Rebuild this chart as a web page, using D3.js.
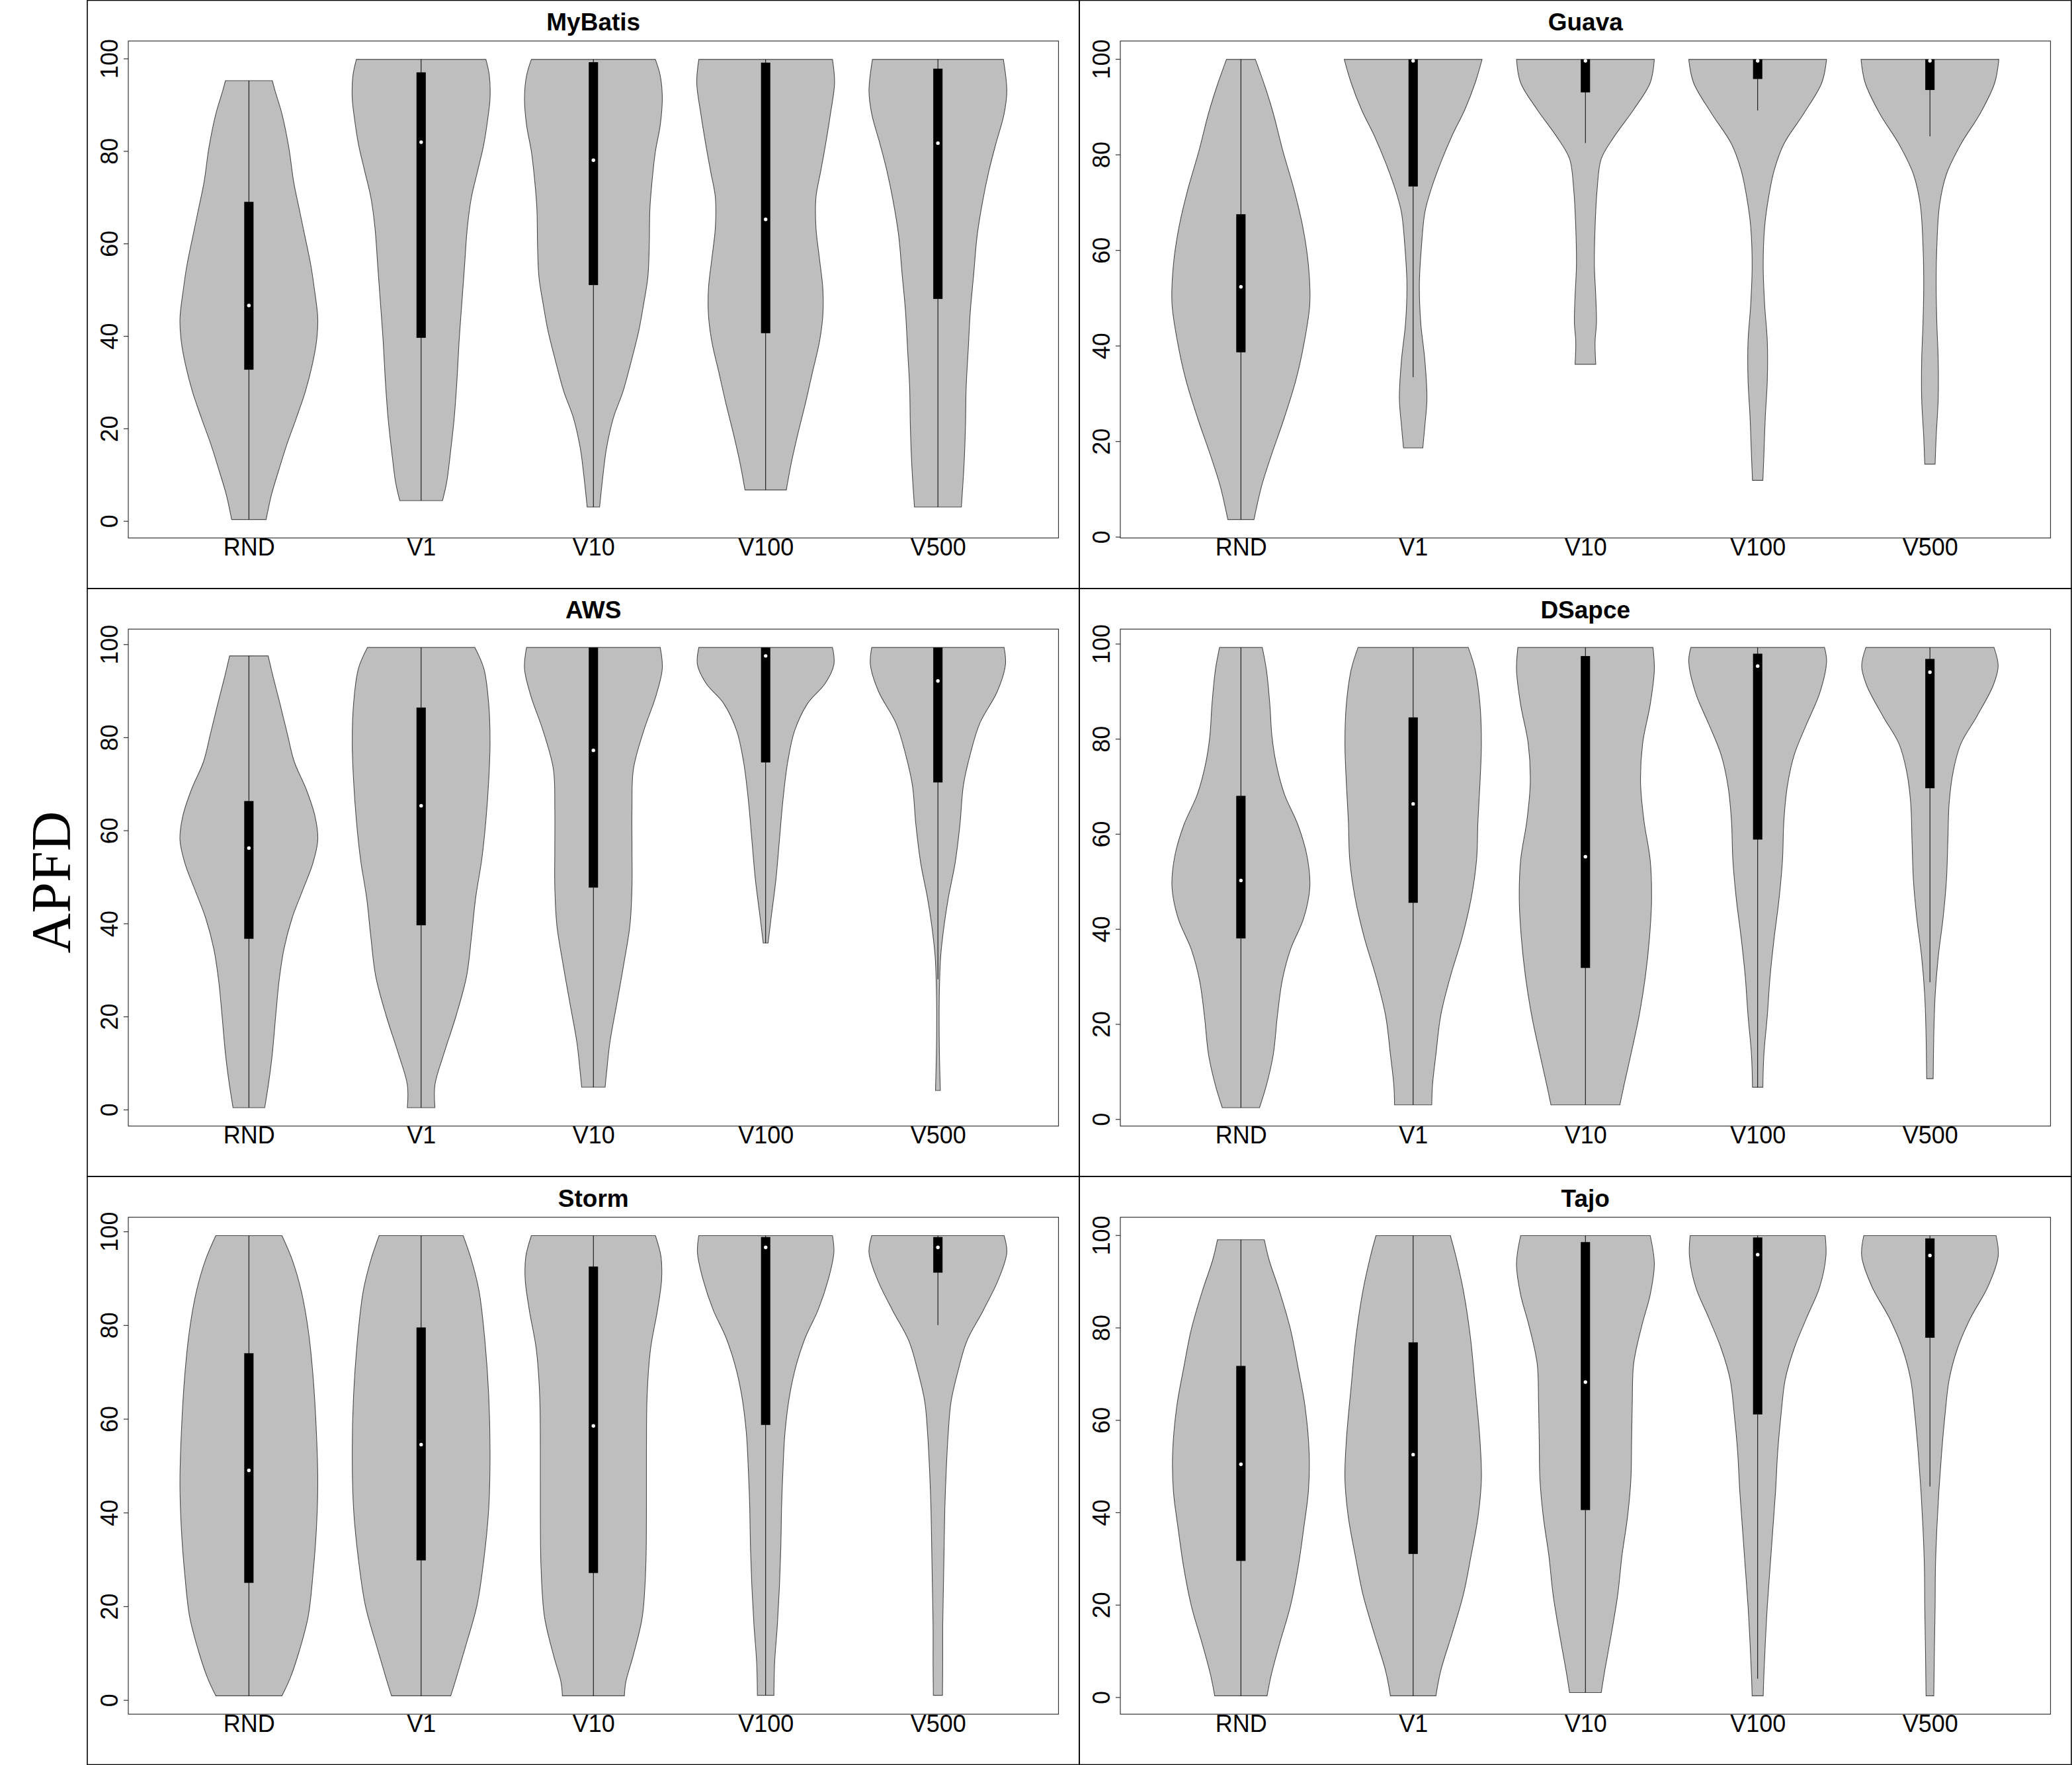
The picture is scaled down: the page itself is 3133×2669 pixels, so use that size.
<!DOCTYPE html>
<html>
<head>
<meta charset="utf-8">
<script src="https://cdn.jsdelivr.net/npm/d3@7"></script>
<style>
  html, body { margin: 0; padding: 0; background: #fff; }
  svg { display: block; }
</style>
</head>
<body>
<svg id="chart" width="3133" height="2669"></svg>
<script>
// ---------------- DATA ----------------
const categories = ["RND", "V1", "V10", "V100", "V500"];
const yTicks = [0, 20, 40, 60, 80, 100];
const panelTitles = ["MyBatis", "Guava", "AWS", "DSapce", "Storm", "Tajo"];
const yLabel = "APFD";

// violin profiles: [value, relative half-width] from bottom to top
// box summaries: [lower whisker, q1, median, q3, upper whisker]
const myBatisViolins = [
  [[0.3,0.25],[5.8,0.33],[10.8,0.43],[16.5,0.55],[22.3,0.69],[28,0.82],[33.8,0.92],[38.7,0.98],[43.7,1.0],[50.2,0.95],[55.2,0.9],[61.8,0.81],[67.5,0.73],[73.3,0.65],[80.7,0.58],[88,0.48],[93,0.38],[95.2,0.34]],
  [[4.4,0.31],[8.3,0.37],[14.1,0.42],[22.3,0.48],[30.5,0.52],[38.7,0.55],[47,0.59],[55.2,0.63],[63.4,0.67],[70,0.73],[75.7,0.82],[81.5,0.91],[87.3,0.97],[91.4,1.0],[96.3,0.99],[99.8,0.94]],
  [[3,0.09],[10,0.14],[15.7,0.19],[22.3,0.29],[28,0.43],[34.6,0.55],[41.2,0.66],[47,0.73],[52.7,0.79],[59.3,0.81],[67.5,0.82],[73.3,0.85],[79.9,0.9],[85.6,0.97],[91.4,1.0],[96.3,0.97],[99.8,0.9]],
  [[6.7,0.3],[12.4,0.37],[19,0.47],[25.6,0.58],[32.2,0.68],[38.7,0.78],[44.5,0.83],[50.2,0.83],[56.8,0.78],[63.4,0.73],[70,0.73],[75.7,0.8],[81.5,0.87],[88,0.94],[94.7,1.0],[99.8,0.97]],
  [[3,0.34],[12.4,0.38],[20.6,0.4],[28.9,0.41],[37.1,0.44],[45.3,0.47],[53.5,0.52],[61.8,0.57],[69.2,0.65],[75.7,0.74],[81.5,0.84],[88,0.96],[93,1.0],[99.8,0.95]]
];
const myBatisBoxes = [[0.3,32.7,46.6,69,95.2],[4.4,39.6,81.9,97,99.8],[3,51,78,99.2,99.8],[6.7,40.6,65.2,99.1,99.8],[3,48,81.7,97.8,99.8]];

const guavaViolins = [
  [[3.6,0.19],[10.6,0.3],[17,0.44],[24.9,0.63],[32.9,0.8],[40.8,0.92],[48.8,1.0],[56.8,0.98],[64.7,0.9],[72.7,0.77],[80.7,0.61],[88.6,0.47],[94.2,0.35],[99.9,0.21]],
  [[18.6,0.14],[23.3,0.17],[28.9,0.2],[36.9,0.17],[44.8,0.11],[52.8,0.09],[60.7,0.12],[67.9,0.17],[72.7,0.26],[78.3,0.4],[83.8,0.56],[89.4,0.75],[95,0.9],[99.9,1.0]],
  [[36.1,0.15],[40.8,0.14],[44.8,0.16],[50.4,0.15],[56.8,0.13],[64.7,0.14],[72.7,0.17],[79.1,0.23],[83.8,0.42],[89.4,0.7],[95,0.94],[99.9,1.0]],
  [[11.8,0.075],[17,0.09],[24.9,0.11],[32.9,0.14],[40.8,0.14],[48.8,0.1],[56.8,0.08],[64.7,0.1],[70.3,0.15],[76.7,0.24],[82.2,0.38],[88.6,0.67],[95,0.93],[99.9,1.0]],
  [[15.2,0.075],[20.9,0.09],[28.9,0.12],[36.9,0.12],[44.8,0.1],[52.8,0.09],[60.7,0.1],[69.5,0.14],[75.9,0.24],[82.2,0.45],[88.6,0.73],[95,0.94],[99.9,1.0]]
];
const guavaBoxes = [[3.6,38.6,52.3,67.5,99.9],[33.4,73.3,99.6,99.9,99.9],[82.4,93,99.6,99.9,99.9],[89.2,95.8,99.6,99.9,99.9],[83.8,93.5,99.6,99.9,99.9]];

const awsViolins = [
  [[0.4,0.23],[6.1,0.29],[12,0.34],[20.3,0.39],[27.9,0.44],[34.6,0.51],[41.3,0.63],[47.1,0.78],[53,0.93],[58,1.0],[63,0.96],[68.9,0.83],[74.7,0.66],[80.6,0.56],[87.3,0.45],[93.1,0.35],[97.5,0.28]],
  [[0.4,0.2],[5.3,0.2],[12,0.33],[20.3,0.51],[28.7,0.66],[37.1,0.73],[45.4,0.79],[53.8,0.88],[62.2,0.94],[70.6,0.98],[78.9,1.0],[87.3,0.98],[94.8,0.91],[99.3,0.78]],
  [[4.8,0.17],[7.8,0.19],[14.5,0.24],[22.8,0.34],[31.2,0.44],[39.6,0.53],[47.9,0.56],[56.3,0.56],[64.7,0.56],[73.1,0.58],[81.4,0.73],[89,0.91],[94.8,1.0],[99.3,0.97]],
  [[35.8,0.035],[41.3,0.08],[49.6,0.15],[58,0.2],[66.4,0.25],[74.7,0.32],[81.4,0.42],[87.3,0.61],[91.5,0.86],[95.6,0.99],[99.3,0.97]],
  [[4.1,0.035],[14,0.02],[24.5,0.02],[32.9,0.04],[39.6,0.09],[45.4,0.15],[53,0.25],[61.3,0.32],[69.7,0.37],[76.4,0.47],[83.1,0.61],[89.8,0.86],[95.6,0.98],[99.3,0.96]]
];
const awsBoxes = [[0.4,36.7,56.2,66.3,97.5],[0.4,39.6,65.3,86.4,99.3],[4.8,47.7,77.2,99.3,99.3],[35.8,74.6,97.5,99.3,99.3],[28,70.3,92.1,99.3,99.3]];

const dsapceViolins = [
  [[2.4,0.27],[7.1,0.37],[13.6,0.47],[21.8,0.53],[29.2,0.6],[35.7,0.72],[42.2,0.91],[48.8,1.0],[55.3,0.96],[61.8,0.83],[68.4,0.63],[74.9,0.51],[80.6,0.45],[87.2,0.42],[94.5,0.37],[99.2,0.31]],
  [[3,0.27],[7.1,0.28],[13.6,0.33],[21.8,0.4],[30,0.54],[38.2,0.71],[46.3,0.84],[54.5,0.92],[62.7,0.94],[70.8,0.97],[79,0.99],[87.2,0.97],[94.5,0.9],[99.2,0.8]],
  [[3,0.5],[7.1,0.56],[13.6,0.66],[21.8,0.78],[30,0.87],[38.2,0.93],[46.3,0.96],[54.5,0.94],[62.7,0.85],[70.8,0.8],[79,0.83],[87.2,0.94],[94.5,1.0],[99.2,0.98]],
  [[6.7,0.075],[13.6,0.09],[21.8,0.14],[30,0.18],[38.2,0.24],[46.3,0.31],[54.5,0.36],[62.7,0.38],[70,0.43],[76.6,0.53],[83.1,0.71],[89.6,0.9],[96.2,1.0],[99.2,0.97]],
  [[8.5,0.047],[17.7,0.056],[25.9,0.075],[34.1,0.12],[42.2,0.19],[50.4,0.24],[58.6,0.26],[66.7,0.28],[73.3,0.34],[79,0.45],[84.7,0.68],[91.3,0.92],[95.3,0.99],[99.2,0.93]]
];
const dsapceBoxes = [[2.4,38,50.2,68,99.2],[3,45.5,66.3,84.5,99.2],[3,31.8,55.2,97.4,99.2],[6.7,58.8,95.3,97.9,99.2],[28.8,69.6,94,96.8,99.2]];

const stormViolins = [
  [[0.9,0.48],[4.7,0.6],[10.4,0.73],[17.8,0.86],[26.8,0.93],[36.6,0.98],[46.4,1.0],[57,0.98],[69.3,0.93],[79.1,0.86],[87.3,0.76],[93.9,0.63],[99.1,0.48]],
  [[0.9,0.43],[4.7,0.51],[11.2,0.64],[20.2,0.81],[30,0.91],[40.7,0.98],[52.9,1.0],[65.2,0.98],[77.5,0.92],[87.3,0.84],[93.9,0.73],[99.1,0.61]],
  [[0.9,0.45],[3.8,0.47],[9.6,0.58],[17.8,0.71],[28.4,0.76],[40.7,0.77],[52.9,0.77],[65.2,0.78],[75,0.83],[83.2,0.93],[89.8,0.99],[94.7,0.98],[99.1,0.9]],
  [[1,0.12],[7.9,0.13],[16.1,0.17],[24.3,0.2],[32.5,0.22],[40.7,0.23],[48.8,0.25],[57,0.28],[65.2,0.35],[71.8,0.45],[77.5,0.58],[83.2,0.76],[89.8,0.91],[95.5,0.99],[99.1,0.97]],
  [[1,0.066],[7.9,0.07],[16.1,0.07],[24.3,0.08],[32.5,0.09],[40.7,0.1],[48.8,0.12],[57,0.15],[63.6,0.19],[70.1,0.29],[76.6,0.42],[83.2,0.66],[89.8,0.88],[95.5,1.0],[99.1,0.96]]
];
const stormBoxes = [[0.9,25,49,74,99.1],[0.9,29.8,54.5,79.5,99.1],[0.9,27.1,58.5,92.5,99.1],[1,58.7,96.6,98.8,99.1],[80,91.2,96.6,98.8,99.1]];

const tajoViolins = [
  [[0.3,0.38],[4.8,0.44],[11.5,0.56],[19.8,0.72],[28.1,0.83],[36.4,0.91],[44.7,0.98],[53,0.99],[63,0.93],[71.3,0.83],[79.6,0.72],[87.9,0.56],[94.6,0.41],[99,0.34]],
  [[0.3,0.33],[5.7,0.4],[14,0.57],[22.3,0.73],[30.6,0.84],[38.9,0.94],[47.2,0.99],[55.5,0.97],[67.2,0.9],[78,0.83],[87.9,0.73],[95.4,0.62],[99.9,0.54]],
  [[1,0.23],[5.7,0.28],[14,0.38],[22.3,0.47],[30.6,0.53],[38.9,0.61],[47.2,0.66],[55.5,0.67],[63.8,0.68],[72.2,0.7],[80.5,0.82],[87.1,0.94],[93.8,1.0],[99.9,0.94]],
  [[0.3,0.08],[4.8,0.09],[11.5,0.11],[19.8,0.14],[28.1,0.18],[36.4,0.22],[44.7,0.26],[53,0.29],[61.3,0.34],[68.8,0.4],[75.5,0.53],[82.1,0.71],[88.8,0.9],[95.4,0.99],[99.9,0.98]],
  [[0.3,0.056],[11.5,0.066],[19.8,0.075],[28.1,0.08],[36.4,0.1],[44.7,0.13],[53,0.17],[61.3,0.22],[68.8,0.28],[75.5,0.4],[82.1,0.59],[88.8,0.84],[95.4,0.99],[99.9,0.96]]
];
const tajoBoxes = [[0.3,29.5,50.4,71.7,99],[0.3,31,52.5,76.8,99.9],[1,40.5,68.2,98.5,99.9],[4,61.2,95.8,99.5,99.9],[45.6,77.8,95.6,99.3,99.9]];

const panelViolins = [myBatisViolins, guavaViolins, awsViolins, dsapceViolins, stormViolins, tajoViolins];
const panelBoxes = [myBatisBoxes, guavaBoxes, awsBoxes, dsapceBoxes, stormBoxes, tajoBoxes];

// ---------------- LAYOUT ----------------
const svg = d3.select("#chart");
const frameLeft = 132, cellW = 1500, cellH = 889.33;
const plotL = 62, plotR = 1468.5, plotT = 62, plotB = 813.5;
const halfWidth = 0.4, boxHalf = 0.027;
const fontSans = '"Liberation Sans", Arial, sans-serif';
const fontSerif = '"Liberation Serif", "Times New Roman", serif';

panelTitles.forEach((title, p) => {
  const col = p % 2, row = Math.floor(p / 2);
  const cx = frameLeft + col * cellW, cy = row * cellH;
  const violins = panelViolins[p], boxes = panelBoxes[p];

  // figure frame
  svg.append("rect").attr("x", cx).attr("y", cy + 0.5).attr("width", cellW).attr("height", cellH)
    .attr("fill", "none").attr("stroke", "#000").attr("stroke-width", 1.6);

  const g = svg.append("g");
  const n = categories.length;
  const x = d3.scaleLinear().domain([0.5 - 0.04 * n, n + 0.5 + 0.04 * n]).range([cx + plotL, cx + plotR]);
  const allVals = violins.flat().map(d => d[0]);
  const lo = d3.min(allVals), hi = d3.max(allVals), r = hi - lo;
  const y = d3.scaleLinear().domain([lo - 0.04 * r, hi + 0.04 * r]).range([cy + plotB, cy + plotT]);

  violins.forEach((prof, i) => {
    const c = i + 1;
    const area = d3.area()
      .curve(d3.curveCatmullRom.alpha(0.5))
      .y(d => y(d[0]))
      .x0(d => x(c - d[1] * halfWidth))
      .x1(d => x(c + d[1] * halfWidth));
    g.append("path").attr("d", area(prof))
      .attr("fill", "#BEBEBE").attr("stroke", "#4a4a4a").attr("stroke-width", 1.1);
    const b = boxes[i];
    g.append("line").attr("x1", x(c)).attr("x2", x(c)).attr("y1", y(b[0])).attr("y2", y(b[4]))
      .attr("stroke", "#000").attr("stroke-width", 1);
    g.append("rect").attr("x", x(c - boxHalf)).attr("width", x(c + boxHalf) - x(c - boxHalf))
      .attr("y", y(b[3])).attr("height", y(b[1]) - y(b[3])).attr("fill", "#000");
    g.append("circle").attr("cx", x(c)).attr("cy", y(b[2])).attr("r", 2.7).attr("fill", "#fff");
  });

  // plot box
  svg.append("rect").attr("x", cx + plotL).attr("y", cy + plotT)
    .attr("width", plotR - plotL).attr("height", plotB - plotT)
    .attr("fill", "none").attr("stroke", "#333").attr("stroke-width", 1.2);

  // y axis
  const ya = svg.append("g").attr("transform", `translate(${cx + plotL},0)`)
    .call(d3.axisLeft(y).tickValues(yTicks).tickSize(7).tickSizeOuter(0).tickFormat(d3.format("d")));
  ya.select(".domain").remove();
  ya.selectAll(".tick line").attr("stroke", "#333").attr("stroke-width", 1.2);
  ya.selectAll(".tick text")
    .attr("x", null).attr("dy", null).attr("text-anchor", "middle")
    .attr("transform", "translate(-16.5,0) rotate(-90)")
    .style("font-family", fontSans).style("font-size", "36px").attr("fill", "#000");

  // x axis labels
  const xa = svg.append("g").attr("transform", `translate(0,${cy + plotB})`)
    .call(d3.axisBottom(x).tickValues(d3.range(1, n + 1)).tickSize(0).tickPadding(1)
      .tickFormat(d => categories[d - 1]));
  xa.select(".domain").remove();
  xa.selectAll(".tick text").style("font-family", fontSans).style("font-size", "36px").attr("fill", "#000");

  // title
  svg.append("text").attr("x", (x.range()[0] + x.range()[1]) / 2).attr("y", cy + plotT - 16)
    .attr("text-anchor", "middle").style("font-family", fontSans).style("font-weight", "bold")
    .style("font-size", "37px").text(title);
});

// y label
svg.append("text")
  .attr("transform", "translate(106,1334) rotate(-90)")
  .attr("text-anchor", "middle")
  .style("font-family", fontSerif)
  .style("font-size", "84px").text(yLabel);
</script>
</body>
</html>
